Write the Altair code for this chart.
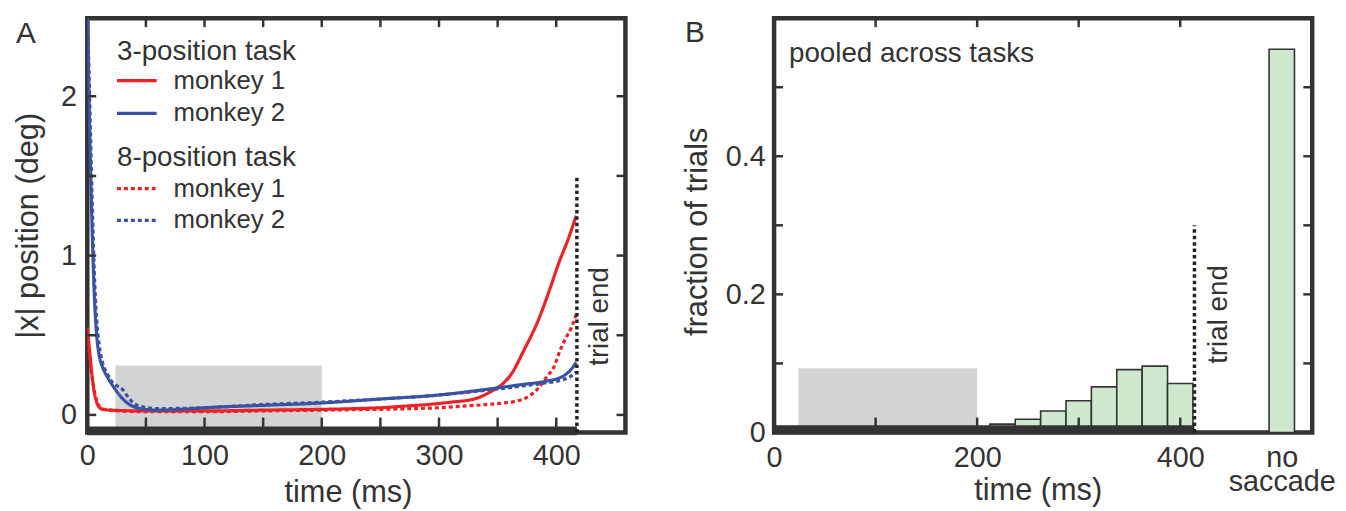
import altair as alt
import pandas as pd

FONT = "Liberation Sans"
DARK = "#333333"
RED = "#ec2227"
BLUE = "#3b52a3"
GREEN = "#cfe7cd"
GREY = "#d1d3d4"

# ---------------- Panel A data ----------------
t_red3 = [0, 2, 4, 6, 8, 10, 13, 20, 50, 100, 150, 200, 230, 250, 270, 290, 310, 330, 345, 355, 362, 372, 385, 395, 402, 410, 417]
y_red3 = [0.55, 0.4, 0.25, 0.14, 0.08, 0.05, 0.035, 0.03, 0.025, 0.025, 0.03, 0.035, 0.04, 0.045, 0.055, 0.065, 0.08, 0.1, 0.15, 0.2, 0.26, 0.4, 0.6, 0.8, 0.95, 1.1, 1.25]

t_red8 = [0, 3, 6, 9, 12, 20, 50, 100, 150, 200, 250, 280, 300, 320, 340, 355, 365, 375, 385, 392, 398, 403, 408, 413, 417]
y_red8 = [0.5, 0.3, 0.15, 0.07, 0.04, 0.03, 0.02, 0.02, 0.025, 0.03, 0.035, 0.04, 0.045, 0.055, 0.065, 0.075, 0.085, 0.11, 0.17, 0.24, 0.3, 0.4, 0.48, 0.55, 0.63]

t_blue3 = [0, 2, 4, 6, 8, 10, 13, 17, 22, 28, 35, 42, 50, 60, 80, 100, 150, 200, 250, 300, 340, 370, 390, 405, 412, 417]
y_blue3 = [2.6, 1.8, 1.2, 0.75, 0.5, 0.38, 0.3, 0.24, 0.18, 0.12, 0.07, 0.045, 0.035, 0.03, 0.035, 0.045, 0.06, 0.075, 0.1, 0.125, 0.16, 0.19, 0.21, 0.24, 0.28, 0.33]

t_blue8 = [0, 2, 4, 6, 8, 10, 13, 17, 22, 26, 30, 35, 40, 48, 60, 100, 150, 200, 250, 300, 340, 370, 390, 405, 412, 417]
y_blue8 = [2.6, 2.0, 1.4, 0.9, 0.6, 0.45, 0.33, 0.26, 0.2, 0.18, 0.16, 0.11, 0.07, 0.05, 0.04, 0.045, 0.065, 0.08, 0.1, 0.125, 0.155, 0.18, 0.2, 0.22, 0.24, 0.27]

A_x_labels = [0, 100, 200, 300, 400]
A_y_labels = [0, 1, 2]
A_x_ticks = [50, 100, 150, 200, 250, 300, 350, 400]
A_y_ticks = [0, 0.5, 1.0, 1.5, 2.0]
A_grey = {"x": [24], "x2": [200], "y": [-0.1], "y2": [0.31]}
A_trial_end = 417.6
A_trial_line_top = 1.5

leg_heads = ["3-position task", "8-position task"]
leg_items = ["monkey 1", "monkey 2", "monkey 1", "monkey 2"]

# ---------------- Panel B data ----------------
hist_start = [212.5, 237.5, 262.5, 287.5, 312.5, 337.5, 362.5, 387.5, 487.5]
hist_frac = [0.012, 0.019, 0.031, 0.046, 0.066, 0.091, 0.096, 0.071, 0.555]
BIN_W = 25
B_x_labels = [0, 200, 400, 500]
B_y_labels = [0, 0.2, 0.4]
B_x_ticks = [100, 200, 300, 400]
B_y_ticks = [0.1, 0.2, 0.3, 0.4, 0.5]
B_grey = {"x": [24], "x2": [200], "y": [0], "y2": [0.093]}
B_trial_end = 414
B_trial_line_top = 0.3

# ---------------- geometry ----------------
WA, HA = 543, 418
WB, HB = 543, 418
TICK = 9
TICK_B = 15

scA_x = alt.Scale(domain=[0, 459], nice=False, zero=False)
scA_y = alt.Scale(domain=[-0.11, 2.49], nice=False, zero=False)
scB_x = alt.Scale(domain=[0, 530], nice=False, zero=False)
scB_y = alt.Scale(domain=[0, 0.6], nice=False, zero=False)

common_axis = dict(grid=False, ticks=False, domain=False, labelFont=FONT, titleFont=FONT,
                   labelColor=DARK, titleColor=DARK, labelFontSize=29, titleFontSize=31,
                   titleFontWeight="normal", labelFlush=False, labelOverlap=False)

axA_x = alt.Axis(values=A_x_labels, title="time (ms)", labelPadding=9, titleX=263, titleY=61,
                 titleBaseline="middle", **common_axis)
axA_y = alt.Axis(values=A_y_labels, title="|x| position (deg)", labelPadding=11, titleX=-59,
                 titleBaseline="middle", **common_axis)
axB_x = alt.Axis(values=B_x_labels, title="time (ms)", labelPadding=11, titleX=266, titleY=59,
                 titleBaseline="middle", labelLineHeight=25,
                 labelExpr="datum.value == 500 ? ['no', 'saccade'] : datum.label", **common_axis)
axB_y = alt.Axis(values=B_y_labels, title="fraction of trials", labelPadding=9, titleX=-77,
                 titleY=215, titleBaseline="middle",
                 labelExpr="datum.value == 0 ? '0' : format(datum.value, '.1f')", **common_axis)


def XA(f):
    return alt.X(f, type="quantitative", scale=scA_x, axis=axA_x)


def YA(f):
    return alt.Y(f, type="quantitative", scale=scA_y, axis=axA_y)


def XB(f):
    return alt.X(f, type="quantitative", scale=scB_x, axis=axB_x)


def YB(f):
    return alt.Y(f, type="quantitative", scale=scB_y, axis=axB_y)


txt = dict(font=FONT, color=DARK)


def label(s, x, y, size=28, align="left", angle=0):
    return alt.Chart(pd.DataFrame({"s": [s]})).mark_text(
        fontSize=size, align=align, baseline="middle", angle=angle, **txt).encode(
        text="s:N", x=alt.value(x), y=alt.value(y))


def tick_rules(values, enc_x, enc_y, side, W, H):
    base = alt.Chart(pd.DataFrame({"v": values})).mark_rule(color=DARK, strokeWidth=2.5)
    if side == "top":
        return base.encode(x=enc_x("v"), y=alt.value(0), y2=alt.value(TICK))
    if side == "bottom":
        return base.encode(x=enc_x("v"), y=alt.value(H), y2=alt.value(H - TICK_B))
    if side == "left":
        return base.encode(y=enc_y("v"), x=alt.value(0), x2=alt.value(TICK))
    return base.encode(y=enc_y("v"), x=alt.value(W), x2=alt.value(W - TICK))


# ---------------- Panel A ----------------
grey_A = alt.Chart(pd.DataFrame(A_grey)).mark_rect(color=GREY).encode(
    x=XA("x"), x2="x2", y=YA("y"), y2="y2")


def curve(t, y, color, dash):
    df = pd.DataFrame({"t": t, "y": y})
    return alt.Chart(df).mark_line(clip=True, color=color, strokeWidth=3.2,
                                   strokeDash=dash, interpolate="monotone").encode(
        x=XA("t"), y=YA("y"))


lines_A = [
    curve(t_red3, y_red3, RED, [1, 0]),
    curve(t_red8, y_red8, RED, [4, 3]),
    curve(t_blue8, y_blue8, BLUE, [4, 3]),
    curve(t_blue3, y_blue3, BLUE, [1, 0]),
]

bar_A = alt.Chart(pd.DataFrame({"x": [0], "x2": [A_trial_end], "y": [-0.1]})).mark_rule(
    color=DARK, strokeWidth=9, strokeCap="butt").encode(x=XA("x"), x2="x2", y=YA("y"))

trial_A = alt.Chart(pd.DataFrame({"x": [A_trial_end], "y": [-0.11], "y2": [A_trial_line_top]})).mark_rule(
    color="#222222", strokeWidth=3.5, strokeDash=[3.5, 3]).encode(x=XA("x"), y=YA("y"), y2="y2")

ticks_A = [tick_rules(A_x_ticks, XA, YA, "top", WA, HA), tick_rules(A_x_ticks, XA, YA, "bottom", WA, HA),
           tick_rules(A_y_ticks, XA, YA, "left", WA, HA), tick_rules(A_y_ticks, XA, YA, "right", WA, HA)]

leg_y_heads = [34, 141]
leg_y_items = [63, 96, 172, 204]
leg_styles = [(RED, [1, 0]), (BLUE, [1, 0]), (RED, [4, 3]), (BLUE, [4, 3])]
legend = [label(s, 30, yy, size=28) for s, yy in zip(leg_heads, leg_y_heads)]
legend += [label(s, 87, yy, size=26) for s, yy in zip(leg_items, leg_y_items)]
legend += [alt.Chart(pd.DataFrame({"s": [s]})).mark_rule(color=c, strokeWidth=3.2, strokeDash=d).encode(
    x=alt.value(30), x2=alt.value(70), y=alt.value(yy))
    for (c, d), s, yy in zip(leg_styles, leg_items, leg_y_items)]

panel_A = alt.layer(grey_A, *lines_A, bar_A, trial_A, *ticks_A,
                    label("A", -62, 16, size=30, align="center"),
                    label("trial end", 517, 301, size=28, align="center", angle=270),
                    *legend).properties(width=WA, height=HA)

# ---------------- Panel B ----------------
grey_B = alt.Chart(pd.DataFrame(B_grey)).mark_rect(color=GREY).encode(
    x=XB("x"), x2="x2", y=YB("y"), y2="y2")

hist = alt.Chart(pd.DataFrame({"start": hist_start, "frac": hist_frac})).transform_calculate(
    end=f"datum.start + {BIN_W}", base="0").mark_rect(
    fill=GREEN, stroke=DARK, strokeWidth=1.6).encode(
    x=XB("start"), x2="end:Q", y=YB("frac"), y2="base:Q")

bar_B = alt.Chart(pd.DataFrame({"x": [0], "x2": [B_trial_end], "y": [0.004]})).mark_rule(
    color=DARK, strokeWidth=9, strokeCap="butt").encode(x=XB("x"), x2="x2", y=YB("y"))

trial_B = alt.Chart(pd.DataFrame({"x": [B_trial_end], "y": [0], "y2": [B_trial_line_top]})).mark_rule(
    color="#222222", strokeWidth=3.5, strokeDash=[3.5, 3]).encode(x=XB("x"), y=YB("y"), y2="y2")

ticks_B = [tick_rules(B_x_ticks, XB, YB, "top", WB, HB), tick_rules(B_x_ticks, XB, YB, "bottom", WB, HB),
           tick_rules(B_y_ticks, XB, YB, "left", WB, HB), tick_rules(B_y_ticks, XB, YB, "right", WB, HB)]

panel_B = alt.layer(grey_B, hist, bar_B, trial_B, *ticks_B,
                    label("B", -80, 15, size=30, align="center"),
                    label("pooled across tasks", 15, 36, size=28),
                    label("trial end", 449, 299, size=28, align="center", angle=270)).properties(
    width=WB, height=HB)

chart = alt.hconcat(panel_A, panel_B, spacing=50).properties(
    padding={"left": 2, "top": 4, "right": 0, "bottom": 0}
).configure(background="white").configure_view(stroke=DARK, strokeWidth=4.5)

chart.save("out.html", embed_options={"renderer": "svg", "actions": False})
